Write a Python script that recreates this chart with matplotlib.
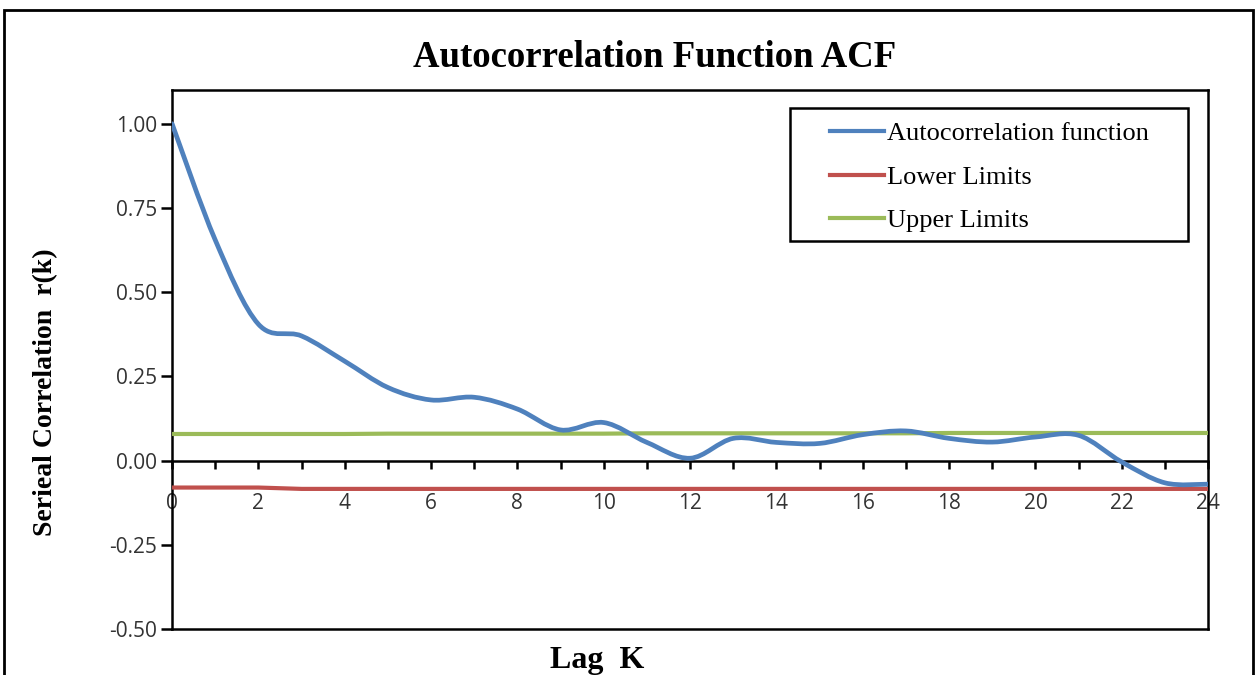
import numpy as np
import matplotlib
matplotlib.use("Agg")
import matplotlib.pyplot as plt
from matplotlib.path import Path
from matplotlib.patches import PathPatch, Rectangle
from matplotlib.lines import Line2D

# ACF values by lag, with the confidence limits
lags = list(range(25))
acf = [1.00, 0.655, 0.405, 0.37, 0.295, 0.217, 0.18, 0.188, 0.153, 0.091,
       0.113, 0.054, 0.007, 0.066, 0.054, 0.051, 0.077, 0.088, 0.066, 0.055,
       0.07, 0.075, -0.004, -0.066, -0.07]
upper = [0.079, 0.079, 0.079, 0.079, 0.079, 0.080, 0.080, 0.080, 0.080, 0.080,
         0.080, 0.081, 0.081, 0.081, 0.081, 0.081, 0.081, 0.081, 0.082, 0.082,
         0.082, 0.082, 0.082, 0.082, 0.082]
lower = [-0.080, -0.080, -0.080, -0.084, -0.084, -0.084, -0.084, -0.084, -0.084,
         -0.084, -0.084, -0.084, -0.084, -0.084, -0.084, -0.084, -0.084, -0.084,
         -0.084, -0.084, -0.084, -0.084, -0.084, -0.084, -0.084]

BLUE = "#4F81BD"
RED = "#C0504D"
GREEN = "#9BBB59"
SERIF = "Liberation Serif"


def smooth_path(x, y, t=1/6):
    # excel style smoothed line: cubic bezier segments through every point
    pts = np.column_stack([x, y]).astype(float)
    n = len(pts)
    verts = [pts[0]]
    codes = [Path.MOVETO]
    for i in range(n - 1):
        p0 = pts[i - 1] if i > 0 else pts[i]
        p1 = pts[i]
        p2 = pts[i + 1]
        p3 = pts[i + 2] if i + 2 < n else pts[i + 1]
        c1 = p1 + (p2 - p0) * t
        c2 = p2 - (p3 - p1) * t
        verts += [c1, c2, p2]
        codes += [Path.CURVE4] * 3
    return Path(verts, codes)


fig = plt.figure(figsize=(12.55, 6.75), dpi=100)
ax = fig.add_axes([0.1371, 0.0681, 0.8255, 0.7985])

ax.plot(lags, lower, color=RED, lw=3, solid_capstyle="butt", zorder=3)
ax.plot(lags, upper, color=GREEN, lw=3, solid_capstyle="butt", zorder=3)
ax.add_patch(PathPatch(smooth_path(lags, acf), fill=False, edgecolor=BLUE,
                       lw=3.4, capstyle="round", zorder=4))

ax.set_xlim(0, 24)
ax.set_ylim(-0.5, 1.1)

# x axis sits on r = 0, plot area keeps a full border
ax.spines["bottom"].set_position(("data", 0))
ax.axhline(-0.5, color="black", lw=1.8, clip_on=False, zorder=5)
for s in ax.spines.values():
    s.set_linewidth(1.8)
    s.set_color("black")

ax.set_xticks(range(0, 25, 2))
ax.set_xticks(range(1, 24, 2), minor=True)
ax.set_yticks([-0.5, -0.25, 0, 0.25, 0.5, 0.75, 1.0])
ax.set_yticklabels(["-0.50", "-0.25", "0.00", "0.25", "0.50", "0.75", "1.00"])
ax.tick_params(axis="x", which="both", direction="out", length=6, width=1.8,
               pad=17, labelsize=15, labelcolor="#333333")
ax.tick_params(axis="y", direction="out", length=8, width=1.8, pad=3,
               labelsize=15, labelcolor="#333333")
for lab in ax.get_xticklabels() + ax.get_yticklabels():
    lab.set_fontfamily("Open Sans")

fig.text(0.522, 0.915, "Autocorrelation Function ACF", ha="center", va="center",
         fontsize=26.5, fontweight="bold", family=SERIF)
fig.text(0.036, 0.419, "Serieal Correlation  r(k)", rotation=90, ha="center",
         va="center", fontsize=20, fontweight="bold", family=SERIF)
fig.text(0.476, 0.022, "Lag  K", ha="center", va="center", fontsize=23,
         fontweight="bold", family=SERIF)

# legend box drawn separately so the entries can sit inset from its edge
ax.add_patch(Rectangle((0.5965, 0.7199), 0.3842, 0.2467, transform=ax.transAxes,
                       fill=True, facecolor="white", edgecolor="black", lw=1.8,
                       zorder=6))
handles = [Line2D([], [], color=BLUE, lw=3),
           Line2D([], [], color=RED, lw=3),
           Line2D([], [], color=GREEN, lw=3)]
leg = ax.legend(handles, ["Autocorrelation function", "Lower Limits", "Upper Limits"],
                loc="upper left", bbox_to_anchor=(0.6351, 0.941), frameon=False,
                prop={"family": SERIF, "size": 19}, handlelength=2.05,
                handletextpad=0.12, labelspacing=0.76, borderpad=0,
                borderaxespad=0)
leg.set_zorder(7)

# outer chart frame
fig.add_artist(Rectangle((4 / 1255, -0.1), 1249 / 1255, 1.1 - 10 / 675,
                         transform=fig.transFigure, fill=False,
                         edgecolor="black", lw=2))

fig.savefig("out.png", dpi=100)
